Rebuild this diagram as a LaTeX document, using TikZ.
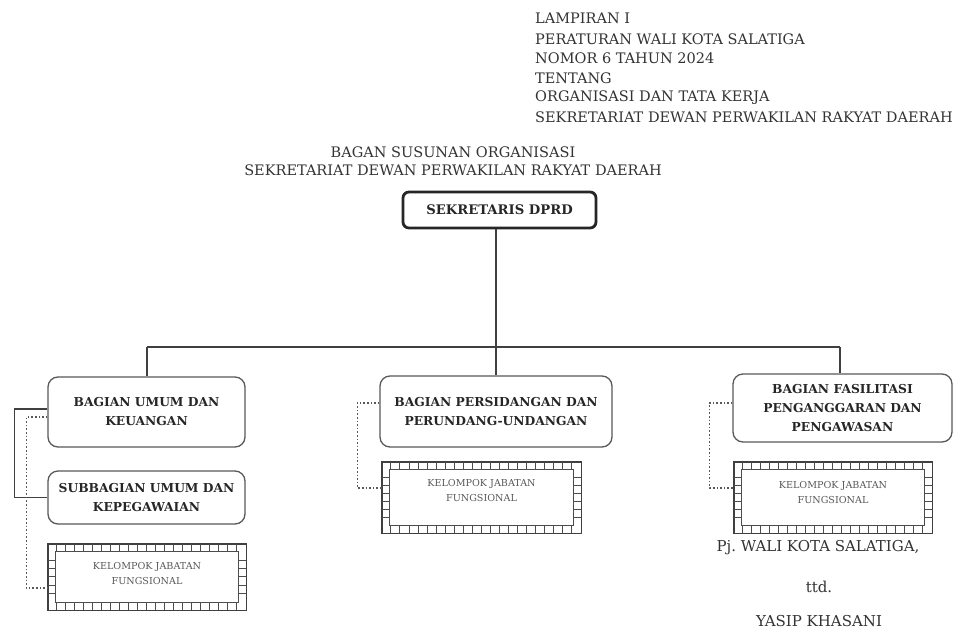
\documentclass[tikz,border=0pt]{standalone}
\usepackage{fontspec}
\setmainfont{DejaVu Serif}
\frenchspacing
\newcommand\kjfframe[3]{%
  \draw[black!75,line width=1.4pt] (#1.north west) rectangle (#1.south east);
  \draw[black!70,line width=0.9pt] ([xshift=8pt,yshift=-8pt]#1.north west) rectangle ([xshift=-8pt,yshift=8pt]#1.south east);
  \pgfmathtruncatemacro\nx{round(#2/9)}%
  \pgfmathsetmacro\dx{#2/\nx}%
  \pgfmathtruncatemacro\nxm{\nx-1}%
  \foreach \i in {1,...,\nxm}{%
    \draw[black!70,line width=0.8pt] ([xshift={\i*\dx pt}]#1.north west) -- ++(0,8);
    \draw[black!70,line width=0.8pt] ([xshift={\i*\dx pt}]#1.south west) -- ++(0,-8);
  }%
  \pgfmathtruncatemacro\ny{round((#3-16)/8)}%
  \pgfmathsetmacro\dy{(#3-16)/\ny}%
  \pgfmathtruncatemacro\nym{\ny-1}%
  \foreach \j in {1,...,\nym}{%
    \draw[black!70,line width=0.8pt] ([yshift={-8pt-\j*\dy pt}]#1.north west) -- ++(8,0);
    \draw[black!70,line width=0.8pt] ([yshift={-8pt-\j*\dy pt}]#1.north east) -- ++(-8,0);
  }%
}
\begin{document}
\begin{tikzpicture}[x=1pt,y=-1pt,
  conn/.style={draw=black!75,line width=1.1pt},
  dotline/.style={draw=black!65,line width=1.5pt,dash pattern=on 1.6pt off 2pt},
  hdr/.style={anchor=west,inner sep=0pt,font=\fontsize{14.5}{16}\selectfont,text=black!80},
  ttl/.style={inner sep=0pt,font=\fontsize{14.5}{16}\selectfont,text=black!80},
  unit/.style={draw=black!65,line width=1.3pt,rounded corners=10pt,inner sep=0pt,
    align=center,font=\fontsize{12.3}{19}\selectfont\bfseries,text=black!85},
  kjf/.style={inner sep=0pt},
  kjft/.style={inner sep=0pt,align=center,font=\fontsize{9.6}{15}\selectfont,text=black!65},
  sig/.style={inner sep=0pt,font=\fontsize{15}{16}\selectfont,text=black!80}]
\useasboundingbox[fill=white] (0,0) rectangle (956,635);

% header
\node[hdr] (h1) at (535,18) {LAMPIRAN I};
\node[hdr] (h2) at (535,39) {PERATURAN WALI KOTA SALATIGA};
\node[hdr] (h3) at (535,58.5) {NOMOR 6 TAHUN 2024};
\node[hdr] (h4) at (535,78) {TENTANG};
\node[hdr] (h5) at (535,97.5) {ORGANISASI DAN TATA KERJA};
\node[hdr] (h6) at (535,117) {SEKRETARIAT DEWAN PERWAKILAN RAKYAT DAERAH};

% title
\node[ttl] (t1) at (453,152) {BAGAN SUSUNAN ORGANISASI};
\node[ttl] (t2) at (453,170) {SEKRETARIAT DEWAN PERWAKILAN RAKYAT DAERAH};

% top box
\node[unit,draw=black!85,line width=2.8pt,rounded corners=6pt,minimum width=193pt,minimum height=36pt,font=\fontsize{13.2}{19}\selectfont\bfseries] (sek) at (499.5,210) {SEKRETARIS DPRD};

% units
\node[unit,minimum width=197pt,minimum height=70pt] (b1) at (146.5,412) {BAGIAN UMUM DAN\\KEUANGAN};
\node[unit,minimum width=197pt,minimum height=53pt] (sub) at (146.5,497.5) {SUBBAGIAN UMUM DAN\\KEPEGAWAIAN};
\node[unit,minimum width=232pt,minimum height=71pt] (b2) at (496,411.5) {BAGIAN PERSIDANGAN DAN\\PERUNDANG-UNDANGAN};
\node[unit,minimum width=219pt,minimum height=68pt] (b3) at (842.5,408) {BAGIAN FASILITASI\\PENGANGGARAN DAN\\PENGAWASAN};

% functional groups
\node[kjf,minimum width=198pt,minimum height=66pt] (k1) at (147,577) {};
\node[kjf,minimum width=199pt,minimum height=71pt] (k2) at (481.5,497.5) {};
\node[kjf,minimum width=198pt,minimum height=71pt] (k3) at (833,497.5) {};
\kjfframe{k1}{198}{66}
\kjfframe{k2}{199}{71}
\kjfframe{k3}{198}{71}
\node[kjft] (k1t) at ([yshift=4pt]k1.center) {KELOMPOK JABATAN\\FUNGSIONAL};
\node[kjft] (k2t) at ([yshift=7pt]k2.center) {KELOMPOK JABATAN\\FUNGSIONAL};
\node[kjft] (k3t) at ([yshift=5pt]k3.center) {KELOMPOK JABATAN\\FUNGSIONAL};

% connectors
\coordinate (hl) at (147,347);
\coordinate (hm) at (496,347);
\coordinate (hr) at (840,347);
\draw[conn] (hm |- sek.south) -- (hm);
\draw[conn] (hl) -- (hr);
\draw[conn] (hl) -- (hl |- b1.north);
\draw[conn] (hm) -- (hm |- b2.north);
\draw[conn] (hr) -- (hr |- b3.north);
\draw[conn] ([yshift=3pt]b1.west) -- ++(-33,0) |- (sub.west);
\draw[dotline] ([yshift=-5pt]b1.west) -- ++(-21,0) |- ([yshift=-11pt]k1.west);
\draw[dotline] ([yshift=8.5pt]b2.west) -- ++(-22,0) |- ([yshift=9.5pt]k2.west);
\draw[dotline] ([yshift=5pt]b3.west) -- ++(-23,0) |- ([yshift=9.5pt]k3.west);

% signature
\node[sig] (s1) at (818,548) {Pj. WALI KOTA SALATIGA,};
\node[sig] (s2) at (819,587) {ttd.};
\node[sig] (s3) at (819,621) {YASIP KHASANI};
\end{tikzpicture}
\end{document}
